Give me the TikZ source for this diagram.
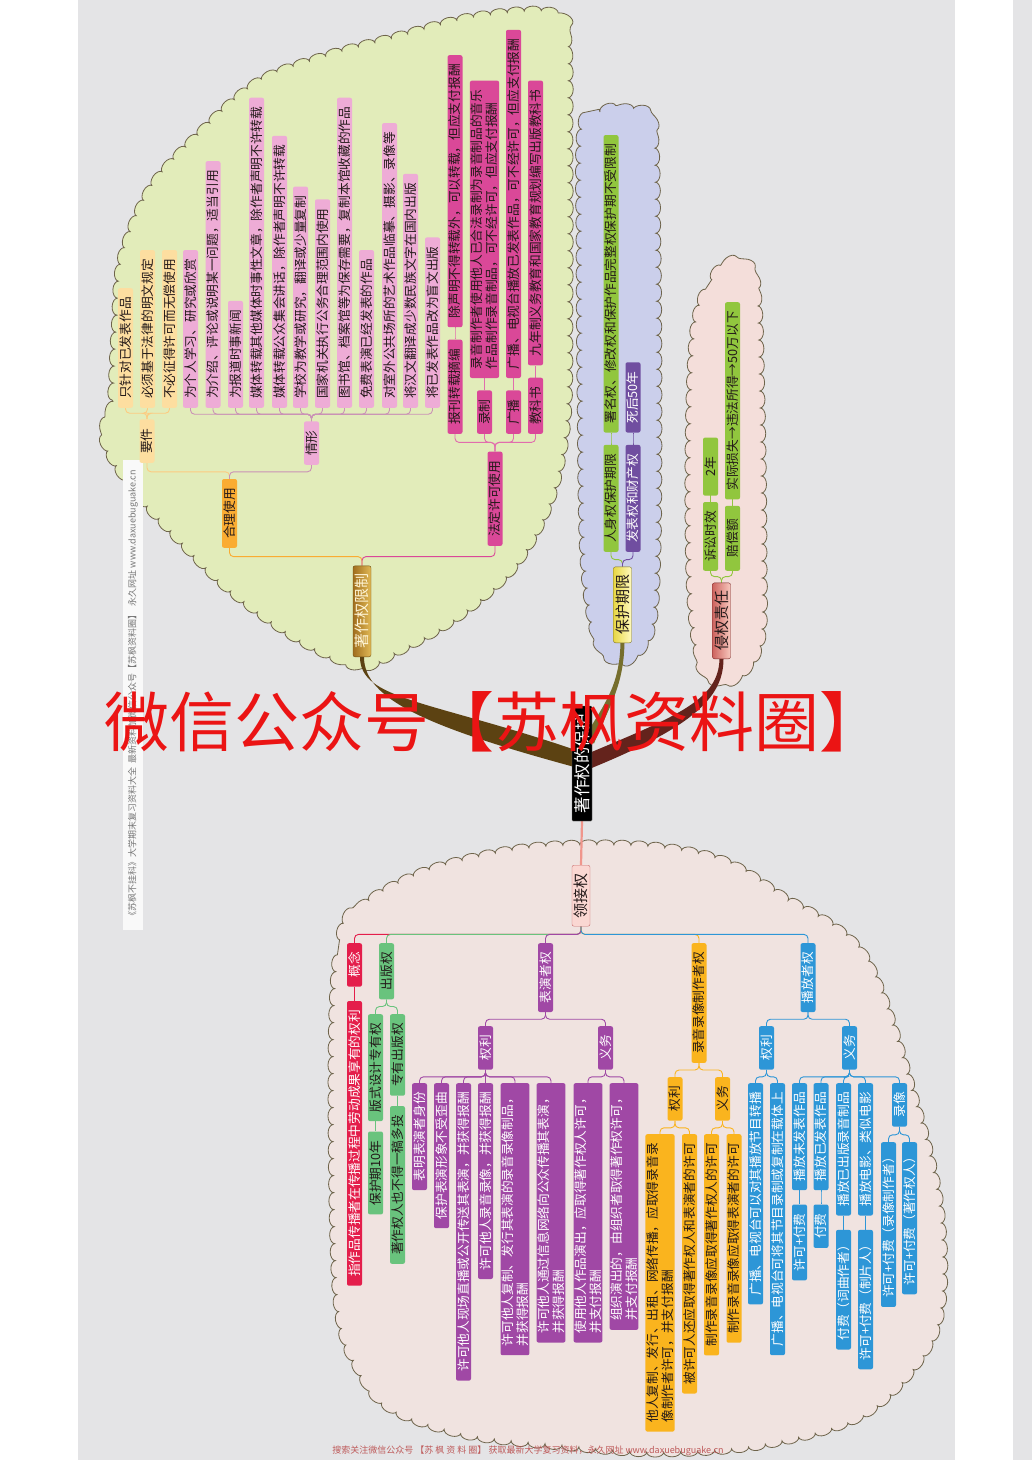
\documentclass[tikz,border=0pt]{standalone}
\usepackage{fontspec}
\setmainfont{Noto Sans CJK SC}
\usetikzlibrary{calc,decorations.pathmorphing}
\pgfdeclarelayer{bg}\pgfdeclarelayer{mid}\pgfdeclarelayer{front}
\pgfsetlayers{bg,mid,main,front}
\definecolor{bgC}{RGB}{228,228,230}
\definecolor{cgreen}{RGB}{226,236,186}
\definecolor{clav}{RGB}{203,207,235}
\definecolor{cpink}{RGB}{244,222,218}
\definecolor{cbot}{RGB}{240,227,224}
\definecolor{cedge}{RGB}{110,100,75}
\definecolor{txtD}{RGB}{35,25,25}
\definecolor{peachC}{RGB}{253,222,160}
\definecolor{pinkL}{RGB}{238,172,214}
\definecolor{orgC}{RGB}{250,172,50}
\definecolor{magC}{RGB}{218,72,152}
\definecolor{grnA}{RGB}{145,198,62}
\definecolor{purA}{RGB}{112,78,160}
\definecolor{redC}{RGB}{228,30,75}
\definecolor{grnB}{RGB}{105,195,125}
\definecolor{purB}{RGB}{160,72,165}
\definecolor{orgB}{RGB}{250,180,30}
\definecolor{bluC}{RGB}{45,150,215}
\definecolor{brnC}{RGB}{92,66,18}
\definecolor{oliveC}{RGB}{118,110,45}
\definecolor{marC}{RGB}{100,35,28}
\definecolor{pinkLn}{RGB}{240,150,140}
\definecolor{wmR}{RGB}{235,20,20}
\definecolor{ftC}{RGB}{190,90,90}
\definecolor{sdC}{RGB}{120,120,120}
\tikzset{
  tbox/.style={rotate=90, rounded corners=2pt, inner xsep=9pt, inner ysep=1pt,
    minimum height=15pt, font=\fontsize{12.7}{15}\selectfont, align=left, text=txtD},
  ubox/.style={tbox, anchor=west},
  dbox/.style={tbox, anchor=east},
  bigbox/.style={font=\fontsize{15}{17}\selectfont, inner xsep=8pt, inner ysep=1.5pt, minimum height=18pt},
  wt/.style={text=white},
  conn/.style={line width=0.9pt, rounded corners=4pt},
  cloudy/.style={decorate, decoration={bumps, segment length=34pt, amplitude=5pt}, line width=0.8pt, draw=cedge},
}
\newcommand\linkU[4]{\draw[conn,#4] (#1.east) -- ++(0,-#3) -| (#2.west);}
\newcommand\linkD[4]{\draw[conn,#4] (#1.west) -- ++(0,#3) -| (#2.east);}
\begin{document}
\begin{tikzpicture}[x=1pt,y=-1pt]
\useasboundingbox (0,0) rectangle (1032,1460);
\begin{pgfonlayer}{bg}
\fill[white] (0,0) rectangle (1032,1460);
\fill[bgC] (78,0) rectangle (955,1460);
\fill[bgC] (1013,0) rectangle (1032,1460);
% clouds
\path[cloudy, fill=cgreen] plot[smooth cycle, tension=0.55] coordinates {(105,440) (112,400) (116,330) (122,260) (150,190) (200,133) (257,83) (320,58) (393,38) (470,18) (545,12) (566,35) (568,150) (568,300) (566,420) (550,500) (515,565) (460,615) (400,650) (360,665) (300,640) (230,590) (170,530) (130,485)};
\path[cloudy, fill=clav] plot[smooth cycle, tension=0.55] coordinates {(582,130) (600,112) (630,110) (652,125) (656,250) (657,400) (656,550) (650,630) (625,660) (598,640) (585,560) (582,400) (581,250)};
\path[cloudy, fill=cpink] plot[smooth cycle, tension=0.55] coordinates {(695,330) (712,280) (735,262) (755,285) (760,400) (762,550) (760,640) (735,678) (705,670) (692,600) (690,450)};
\path[cloudy, fill=cbot] plot[smooth cycle, tension=0.55] coordinates {(333,1060) (340,940) (363,905) (430,870) (530,848) (640,846) (720,860) (780,895) (863,955) (913,1095) (940,1215) (935,1330) (870,1410) (770,1443) (660,1452) (560,1445) (470,1435) (400,1413) (365,1380) (338,1300)};
% side strip
\fill[white!95!gray] (123,460) rectangle (143,930);
\node[rotate=90, text=sdC, font=\fontsize{9}{9}\selectfont, inner sep=0] (sd) at (133,695) {《苏枫不挂科》大学期末复习资料大全 \ 最新资料加微信公众号【苏枫资料圈】 \ 永久网址 www.daxuebuguake.cn};
\end{pgfonlayer}

% ===== root =====
\node[rotate=90, fill=black, draw=black!55, text=white, font=\fontsize{16.5}{18}\selectfont, inner xsep=8pt, inner ysep=1.5pt, minimum height=20pt, rounded corners=1pt] (rt) at (582,763.5) {著作权的保护};

% ===== green cloud =====
\node[ubox, bigbox, left color={rgb,255:red,160;green,110;blue,30}, right color={rgb,255:red,225;green,185;blue,85}, draw={rgb,255:red,110;green,80;blue,20}, text={rgb,255:red,255;green,246;blue,215}] (xz) at (362,657) {著作权限制};
\node[ubox, fill=orgC] (hl) at (229.5,548) {合理使用};
\node[ubox, fill=magC] (fd) at (495,546) {法定许可使用};
\node[ubox, fill=peachC] (yj) at (147,463) {要件};
\node[ubox, fill=pinkL] (qx) at (311.5,465) {情形};
\node[ubox, fill=peachC] (y1) at (125.5,408) {只针对已发表作品};
\node[ubox, fill=peachC] (y2) at (147.5,408) {必须基于法律的明文规定};
\node[ubox, fill=peachC] (y3) at (169.5,408) {不必征得许可而无偿使用};
\node[ubox, fill=pinkL] (q1) at (190.5,408) {为个人学习、研究或欣赏};
\node[ubox, fill=pinkL] (q2) at (213,408) {为介绍、评论或说明某一问题，适当引用};
\node[ubox, fill=pinkL] (q3) at (235.5,408) {为报道时事新闻};
\node[ubox, fill=pinkL] (q4) at (256.5,408) {媒体转载其他媒体时事性文章，除作者声明不许转载};
\node[ubox, fill=pinkL] (q5) at (279.5,408) {媒体转载公众集会讲话，除作者声明不许转载};
\node[ubox, fill=pinkL] (q6) at (300.5,408) {学校为教学或研究，翻译或少量复制};
\node[ubox, fill=pinkL] (q7) at (322.5,408) {国家机关执行公务合理范围内使用};
\node[ubox, fill=pinkL] (q8) at (344.5,408) {图书馆、档案馆等为保存需要，复制本馆收藏的作品};
\node[ubox, fill=pinkL] (q9) at (366.5,408) {免费表演已经发表的作品};
\node[ubox, fill=pinkL] (q10) at (389.5,408) {对室外公共场所的艺术作品临摹、摄影、录像等};
\node[ubox, fill=pinkL] (q11) at (410.5,408) {将汉文翻译成少数民族文字在国内出版};
\node[ubox, fill=pinkL] (q12) at (432.5,408) {将已发表作品改为盲文出版};
\node[ubox, fill=magC] (f1) at (455,434) {报刊转载摘编};
\node[ubox, fill=magC] (f1a) at ($(f1.east)+(0,-12)$) {除声明不得转载外，可以转载，但应支付报酬};
\node[ubox, fill=magC] (f2) at (484.5,434) {录制};
\node[ubox, fill=magC] (f2a) at ($(f2.east)+(0,-12)$) {录音制作者使用他人已合法录制为录音制品的音乐\\作品制作录音制品，可不经许可，但应支付报酬};
\node[ubox, fill=magC] (f3) at (513.5,434) {广播};
\node[ubox, fill=magC] (f3a) at ($(f3.east)+(0,-12)$) {广播、电视台播放已发表作品，可不经许可，但应支付报酬};
\node[ubox, fill=magC] (f4) at (535.5,434) {教科书};
\node[ubox, fill=magC] (f4a) at ($(f4.east)+(0,-12)$) {九年制义务教育和国家教育规划编写出版教科书};

% ===== lavender cloud =====
\node[ubox, bigbox, left color={rgb,255:red,232;green,215;blue,70}, right color={rgb,255:red,255;green,250;blue,190}, draw={rgb,255:red,120;green,110;blue,40}] (bh) at (622.5,643) {保护期限};
\node[ubox, fill=grnA] (b1) at (611,552) {人身权保护期限};
\node[ubox, fill=purA, wt] (b2) at (633,552) {发表权和财产权};
\node[ubox, fill=grnA] (b1a) at ($(b1.east)+(0,-12)$) {署名权、修改权和保护作品完整权保护期不受限制};
\node[ubox, fill=purA, wt] (b2a) at ($(b2.east)+(0,-12)$) {死后50年};

% ===== pink cloud =====
\node[ubox, bigbox, left color={rgb,255:red,205;green,100;blue,95}, right color={rgb,255:red,248;green,200;blue,190}, draw={rgb,255:red,120;green,40;blue,40}] (qq) at (721.5,659) {侵权责任};
\node[ubox, fill=grnA] (p1) at (710.5,571) {诉讼时效};
\node[ubox, fill=grnA, minimum width=65pt] (p2) at (732.5,571) {赔偿额};
\node[ubox, fill=grnA, minimum width=58pt] (p1a) at ($(p1.east)+(0,-6)$) {2年};
\node[ubox, fill=grnA] (p2a) at ($(p2.east)+(0,-6)$) {实际损失→违法所得→50万以下};

% ===== bottom cloud =====
\node[dbox, bigbox, fill={rgb,255:red,250;green,215;blue,210}, draw={rgb,255:red,200;green,110;blue,110}] (lj) at (581,865) {领接权};
\node[dbox, fill=redC, wt] (c1) at (354.5,943) {概念};
\node[dbox, fill=redC, wt] (c1a) at ($(c1.west)+(0,14)$) {指作品传播者在传播过程中劳动成果享有的权利};
\node[dbox, fill=grnB] (c2) at (386.5,943) {出版权};
\node[dbox, fill=grnB] (c2a) at (375.5,1014) {版式设计专有权};
\node[dbox, fill=grnB] (c2b) at (397.5,1014) {专有出版权};
\node[dbox, fill=grnB] (c2aa) at ($(c2a.west)+(0,10)$) {保护期10年};
\node[dbox, fill=grnB] (c2ba) at ($(c2b.west)+(0,10)$) {著作权人也不得一稿多投};
\node[dbox, fill=purB, wt] (c3) at (545.5,943) {表演者权};
\node[dbox, fill=purB, wt] (c3a) at (485.5,1026) {权利};
\node[dbox, fill=purB, wt] (c3b) at (605.5,1026) {义务};
\node[dbox, fill=purB, wt] (c3a1) at (419.5,1083) {表明表演者身份};
\node[dbox, fill=purB, wt] (c3a2) at (441.5,1083) {保护表演形象不受歪曲};
\node[dbox, fill=purB, wt] (c3a3) at (463.5,1083) {许可他人现场直播或公开传送其表演，并获得报酬};
\node[dbox, fill=purB, wt] (c3a4) at (485.5,1083) {许可他人录音录像，并获得报酬};
\node[dbox, fill=purB, wt] (c3a5) at (515,1083) {许可他人复制、发行其表演的录音录像制品，\\并获得报酬};
\node[dbox, fill=purB, wt] (c3a6) at (551,1083) {许可他人通过信息网络向公众传播其表演，\\并获得报酬};
\node[dbox, fill=purB, wt] (c3b1) at (588,1083) {使用他人作品演出，应取得著作权人许可，\\并支付报酬};
\node[dbox, fill=purB, wt] (c3b2) at (624,1083) {组织演出的，由组织者取得著作权许可，\\并支付报酬};
\node[dbox, fill=orgB] (c4) at (699,943) {录音录像制作者权};
\node[dbox, fill=orgB] (c4a) at (675,1077) {权利};
\node[dbox, fill=orgB] (c4b) at (722.5,1077) {义务};
\node[dbox, fill=orgB] (c4a1) at (660,1134) {他人复制、发行、出租、网络传播，应取得录音录\\像制作者许可，并支付报酬};
\node[dbox, fill=orgB] (c4a2) at (689.5,1134) {被许可人还应取得著作权人和表演者的许可};
\node[dbox, fill=orgB] (c4b1) at (711.5,1134) {制作录音录像应取得著作权人的许可};
\node[dbox, fill=orgB] (c4b2) at (734,1134) {制作录音录像应取得表演者的许可};
\node[dbox, fill=bluC, wt] (c5) at (808,943) {播放者权};
\node[dbox, fill=bluC, wt] (c5a) at (766.5,1026) {权利};
\node[dbox, fill=bluC, wt] (c5b) at (849.5,1026) {义务};
\node[dbox, fill=bluC, wt] (c5a1) at (755.5,1083) {广播、电视台可以对其播放节目转播};
\node[dbox, fill=bluC, wt] (c5a2) at (777.5,1083) {广播、电视台可将其节目录制或复制在载体上};
\node[dbox, fill=bluC, wt] (c5b1) at (799.5,1083) {播放未发表作品};
\node[dbox, fill=bluC, wt] (c5b1a) at ($(c5b1.west)+(0,14)$) {许可+付费};
\node[dbox, fill=bluC, wt] (c5b2) at (821,1083) {播放已发表作品};
\node[dbox, fill=bluC, wt] (c5b2a) at ($(c5b2.west)+(0,14)$) {付费};
\node[dbox, fill=bluC, wt] (c5b3) at (843.5,1083) {播放已出版录音制品};
\node[dbox, fill=bluC, wt] (c5b3a) at ($(c5b3.west)+(0,14)$) {付费（词曲作者）};
\node[dbox, fill=bluC, wt] (c5b4) at (865.5,1083) {播放电影、类似电影};
\node[dbox, fill=bluC, wt] (c5b4a) at ($(c5b4.west)+(0,14)$) {许可+付费（制片人）};
\node[dbox, fill=bluC, wt] (c5b5) at (899.5,1083) {录像};
\node[dbox, fill=bluC, wt] (c5b5a) at (888.5,1142) {许可+付费（录像制作者）};
\node[dbox, fill=bluC, wt] (c5b5b) at (909.5,1142) {许可+付费（著作权人）};

% ===== branches and connectors =====
\begin{pgfonlayer}{mid}
\fill[brnC] ($(xz.west)+(-2,0)$) .. controls ($(xz.west)+(-2,43)$) and (430,700) .. ($(rt.center)+(-2,-12)$) -- ($(rt.center)+(-2,5)$) .. controls (430,728) and ($(xz.west)+(2,43)$) .. ($(xz.west)+(2,0)$) -- cycle;
\fill[oliveC] ($(bh.west)+(-2,0)$) .. controls ($(bh.west)+(-3,45)$) and (603,705) .. ($(rt.center)+(2,-25)$) -- ($(rt.center)+(12,-20)$) .. controls (608,708) and ($(bh.west)+(1,45)$) .. ($(bh.west)+(2,0)$) -- cycle;
\fill[marC] ($(qq.west)+(-2,0)$) .. controls ($(qq.west)+(-3,40)$) and (680,715) .. ($(rt.center)+(6,-10)$) -- ($(rt.center)+(6,6)$) .. controls (690,728) and ($(qq.west)+(2,40)$) .. ($(qq.west)+(2,0)$) -- cycle;
\draw[pinkLn, line width=2.2pt] (rt.west) -- (lj.east);
% green cloud
\linkU{xz}{hl}{9}{orgC}
\linkU{xz}{fd}{9}{magC}
\linkU{hl}{yj}{7}{peachC!80!orange}
\linkU{hl}{qx}{7}{pinkL!85!black}
\foreach \n in {y1,y2,y3}{\linkU{yj}{\n}{6}{peachC!80!orange}}
\foreach \n in {q1,q2,q3,q4,q5,q6,q7,q8,q9,q10,q11,q12}{\linkU{qx}{\n}{7}{pinkL!85!black}}
\foreach \n in {f1,f2,f3,f4}{\linkU{fd}{\n}{9}{magC!80}}
\foreach \n in {f1,f2,f3,f4}{\linkU{\n}{\n a}{6}{magC!80}}
% lavender & pink
\linkU{bh}{b1}{7}{grnA}
\linkU{bh}{b2}{7}{purA}
\linkU{b1}{b1a}{6}{grnA}
\linkU{b2}{b2a}{6}{purA}
\linkU{qq}{p1}{6}{grnA}
\linkU{qq}{p2}{6}{grnA}
\linkU{p1}{p1a}{3}{grnA}
\linkU{p2}{p2a}{3}{grnA}
% bottom cloud
\linkD{lj}{c1}{8}{redC}
\linkD{lj}{c2}{8}{grnB}
\linkD{lj}{c3}{8}{purB}
\linkD{lj}{c4}{8}{orgB}
\linkD{lj}{c5}{8}{bluC}
\linkD{c1}{c1a}{7}{redC}
\linkD{c2}{c2a}{7}{grnB}
\linkD{c2}{c2b}{7}{grnB}
\linkD{c2a}{c2aa}{5}{grnB}
\linkD{c2b}{c2ba}{5}{grnB}
\linkD{c3}{c3a}{7}{purB}
\linkD{c3}{c3b}{7}{purB}
\foreach \n in {c3a1,c3a2,c3a3,c3a4,c3a5,c3a6}{\linkD{c3a}{\n}{7}{purB}}
\foreach \n in {c3b1,c3b2}{\linkD{c3b}{\n}{7}{purB}}
\linkD{c4}{c4a}{7}{orgB}
\linkD{c4}{c4b}{7}{orgB}
\foreach \n in {c4a1,c4a2}{\linkD{c4a}{\n}{7}{orgB}}
\foreach \n in {c4b1,c4b2}{\linkD{c4b}{\n}{7}{orgB}}
\linkD{c5}{c5a}{7}{bluC}
\linkD{c5}{c5b}{7}{bluC}
\foreach \n in {c5a1,c5a2}{\linkD{c5a}{\n}{7}{bluC}}
\foreach \n in {c5b1,c5b2,c5b3,c5b4,c5b5}{\linkD{c5b}{\n}{7}{bluC}}
\foreach \n in {c5b1,c5b2,c5b3,c5b4}{\linkD{\n}{\n a}{7}{bluC}}
\linkD{c5b5}{c5b5a}{8}{bluC}
\linkD{c5b5}{c5b5b}{8}{bluC}
\end{pgfonlayer}

% ===== watermark & footer =====
\begin{pgfonlayer}{front}
\node[text=wmR, font=\fontsize{65}{65}\selectfont, anchor=west, inner sep=0] (wm) at (104,722) {微信公众号【苏枫资料圈】};
\node[text=ftC, font=\fontsize{9}{9}\selectfont, inner sep=0] (ft) at (528,1451) {搜索关注微信公众号 【苏 枫 资 料 圈】 获取最新大学复习资料，永久网址 www.daxuebuguake.cn};
\end{pgfonlayer}
\end{tikzpicture}
\end{document}
